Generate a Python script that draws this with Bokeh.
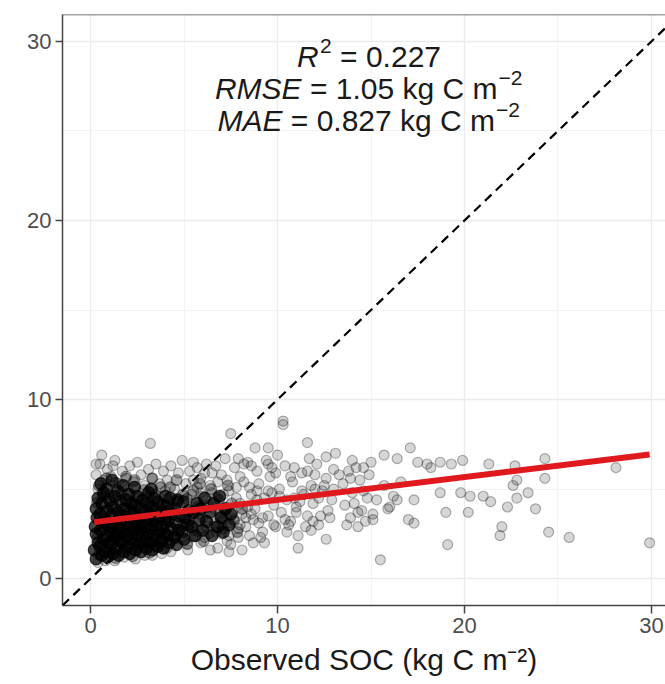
from bokeh.plotting import figure
from bokeh.models import Range1d, FixedTicker, Slope, Span, Label
from bokeh.embed import file_html
from bokeh.resources import INLINE

# ---------------- data ----------------
# dense core of the cloud (observed SOC, predicted SOC), kg C m-2
core_obs = [
    0.3, 0.2, 0.4, 0.3, 0.25, 0.35, 0.3, 0.4,
    0.6, 0.5, 0.7, 0.55, 0.65, 0.5, 0.6, 0.7, 0.55,
    0.9, 0.8, 1.0, 0.85, 0.95, 0.8, 0.9, 1.0, 0.85,
    1.2, 1.1, 1.3, 1.15, 1.25, 1.1, 1.2, 1.3, 1.15,
    1.5, 1.4, 1.6, 1.45, 1.55, 1.4, 1.5, 1.6, 1.45,
    1.8, 1.7, 1.9, 1.75, 1.85, 1.7, 1.8, 1.9, 1.75,
    2.1, 2.0, 2.2, 2.05, 2.15, 2.0, 2.1, 2.2, 2.05,
    2.4, 2.3, 2.5, 2.35, 2.45, 2.3, 2.4, 2.5, 2.35,
    2.7, 2.6, 2.8, 2.65, 2.75, 2.6, 2.7, 2.8,
    3.0, 2.9, 3.1, 2.95, 3.05, 2.9, 3.0, 3.1,
    3.3, 3.2, 3.4, 3.25, 3.35, 3.2, 3.3, 3.4, 3.25,
    3.6, 3.5, 3.7, 3.55, 3.65, 3.5, 3.6,
    3.9, 3.8, 4.0, 3.85, 3.95, 3.8, 3.9, 4.0,
    4.2, 4.1, 4.3, 4.15, 4.35, 4.1, 4.25,
    4.6, 4.5, 4.7, 4.55, 4.75, 4.5, 4.65,
    5.0, 4.9, 5.2, 5.05, 5.25, 4.95,
    5.6, 5.4, 5.8, 5.5, 5.7,
    6.0, 6.2, 6.4, 6.6, 6.8, 7.0, 7.2, 7.4, 6.1, 6.9, 7.5, 5.9, 6.5, 7.1,
]
core_pred = [
    1.1, 1.6, 2.0, 2.5, 2.9, 3.4, 3.9, 4.5,
    1.3, 1.8, 2.2, 2.7, 3.1, 3.6, 4.2, 4.8, 5.3,
    1.2, 1.5, 2.0, 2.4, 2.9, 3.3, 3.8, 4.4, 5.0,
    1.4, 1.9, 2.3, 2.6, 3.0, 3.5, 4.0, 4.6, 5.5,
    1.3, 1.7, 2.1, 2.5, 2.8, 3.2, 3.7, 4.3, 4.9,
    1.5, 2.0, 2.4, 2.7, 3.1, 3.5, 3.9, 4.4, 5.2,
    1.4, 1.8, 2.2, 2.6, 3.0, 3.4, 3.8, 4.2, 4.7,
    1.6, 2.0, 2.4, 2.8, 3.2, 3.6, 4.1, 4.6, 5.1,
    1.5, 1.9, 2.3, 2.7, 3.0, 3.4, 3.9, 4.4,
    1.7, 2.1, 2.5, 2.9, 3.3, 3.7, 4.2, 4.8,
    1.6, 2.0, 2.4, 2.8, 3.2, 3.6, 4.0, 4.5, 5.0,
    1.8, 2.2, 2.6, 3.0, 3.4, 3.8, 4.3,
    1.7, 2.1, 2.5, 2.9, 3.3, 3.7, 4.1, 4.6,
    2.0, 2.4, 2.8, 3.2, 3.6, 4.0, 4.5,
    1.9, 2.3, 2.7, 3.1, 3.5, 3.9, 4.4,
    2.2, 2.6, 3.0, 3.4, 3.8, 4.3,
    2.4, 2.9, 3.3, 3.7, 4.2,
    2.7, 3.2, 3.7, 4.2, 2.9, 3.4, 3.9, 3.0, 4.5, 4.6, 3.6, 3.9, 2.4, 2.6,
]

# second, slightly less dense layer of the core
core2_obs = [
    0.45, 0.75, 0.35, 0.65, 0.45, 0.75, 0.35, 0.65, 0.45, 0.85,
    1.35, 1.05, 1.65, 1.35, 1.05, 1.65, 1.35, 1.05, 1.65, 1.35, 1.9,
    2.25, 2.55, 2.85, 2.25, 2.55, 2.85, 2.25, 2.55, 2.85, 2.35,
    3.15, 3.45, 3.75, 3.15, 3.45, 3.75, 3.15, 3.45, 3.75, 3.3,
    4.05, 4.35, 4.65, 4.95, 4.05, 4.35, 4.65, 4.95, 4.25, 4.6,
    5.15, 5.45, 5.75, 5.15, 5.45, 5.75, 5.15, 5.5, 5.85,
    6.05, 6.35, 6.65, 6.95, 7.25, 7.55, 6.25, 6.75, 7.05, 7.65, 7.85, 8.1, 6.45, 7.35,
]
core2_pred = [
    1.35, 1.75, 2.25, 2.75, 3.25, 3.75, 4.25, 4.65, 5.2, 5.6,
    1.15, 1.65, 1.95, 2.45, 2.95, 3.3, 3.85, 4.3, 4.75, 5.35, 5.7,
    1.25, 1.75, 2.05, 2.55, 3.05, 3.55, 4.05, 4.45, 4.95, 5.5,
    1.45, 1.85, 2.35, 2.75, 3.25, 3.65, 4.15, 4.7, 5.1, 5.6,
    1.7, 2.15, 2.55, 2.95, 3.45, 3.85, 4.25, 4.7, 5.1, 5.5,
    1.95, 2.35, 2.65, 3.15, 3.6, 4.0, 4.45, 4.9, 5.3,
    2.1, 2.55, 3.05, 3.45, 3.85, 4.2, 4.0, 4.5, 2.8, 3.3, 2.6, 3.9, 5.0, 5.2,
]

# surrounding points (halo and spread up to ~13)
spread_obs = [
    0.3, 0.5, 0.7, 0.9, 1.1, 1.3, 1.5, 1.7, 1.9, 2.1,
    2.3, 2.5, 2.7, 2.9, 3.1, 3.3, 3.5, 3.7, 3.9, 4.1,
    4.3, 4.5, 4.7, 4.9, 5.1, 5.3, 5.5, 5.7, 5.9, 0.6,
    3.2, 0.3, 1.2, 0.4, 1.0, 2.0, 3.0, 4.0, 5.0,
    0.4, 1.3, 2.4, 3.3, 4.3, 5.2, 0.8, 1.8, 2.9, 3.8,
    5.2, 5.5, 5.8, 6.0, 6.1, 6.3, 6.4, 6.6, 6.7, 6.9,
    7.0, 7.1, 7.3, 7.4, 7.6, 7.7, 7.9, 8.0, 8.2, 8.3,
    8.5, 8.6, 8.8, 8.9, 9.0, 6.2, 6.5, 6.8, 7.2, 7.5,
    7.8, 8.1, 8.4, 8.7, 9.0, 5.7, 6.0, 6.3, 6.6, 6.9,
    7.2, 7.5, 7.8, 8.1, 8.4, 8.7, 5.4, 5.9, 6.4, 7.0,
    7.9, 8.6, 9.5,
    9.2, 9.3, 9.5, 9.6, 9.8, 9.9, 10.1, 10.2, 10.4, 10.5,
    10.7, 10.8, 11.0, 11.1, 11.3, 11.4, 11.6, 11.8, 11.9, 12.1,
    12.2, 12.4, 12.6, 12.7, 12.9, 13.0, 9.4, 10.0, 10.3, 10.3,
    11.6, 7.5, 9.5, 8.8, 11.1, 9.1, 7.4, 12.6, 11.7, 12.6,
    9.7, 10.6, 11.2, 12.0, 10.9, 8.0, 8.9, 9.9, 12.3, 11.5,
    5.3, 5.6, 5.9, 6.2, 6.5, 6.8, 7.1, 7.4, 7.7, 8.0,
    8.3, 8.6, 8.9, 9.2, 9.5, 9.8, 10.1, 10.4, 10.7, 11.0,
    11.3, 11.6, 11.9, 12.2, 12.5, 12.8, 6.1, 7.3, 8.5, 9.7,
    10.9, 12.0, 7.9, 9.3, 6.7, 8.2, 5.5, 10.5, 11.8, 13.0,
]
spread_pred = [
    5.8, 6.4, 5.5, 6.1, 5.7, 6.6, 5.3, 6.0, 5.6, 6.3,
    5.4, 6.5, 5.8, 5.2, 6.1, 5.6, 6.4, 5.3, 6.0, 5.5,
    6.3, 5.0, 5.9, 6.6, 5.3, 6.0, 5.5, 6.2, 4.8, 6.9,
    7.55, 6.4, 6.3, 5.0, 4.7, 5.0, 4.6, 4.9, 4.6,
    0.9, 1.0, 1.1, 1.3, 1.5, 1.6, 1.0, 1.2, 1.3, 1.4,
    1.9, 2.7, 3.6, 4.6, 2.3, 3.1, 5.2, 3.9, 2.6, 4.4,
    5.8, 3.3, 2.1, 4.9, 3.7, 6.2, 2.8, 4.2, 5.4, 3.4,
    2.4, 4.7, 3.9, 6.0, 3.1, 6.4, 5.9, 1.7, 6.7, 1.9,
    5.1, 1.6, 6.5, 2.0, 5.3, 5.1, 3.4, 4.1, 2.9, 3.6,
    4.0, 3.1, 4.5, 3.6, 4.0, 3.3, 4.7, 2.0, 1.6, 2.5,
    6.7, 6.3, 6.4,
    2.6, 4.5, 3.5, 5.7, 4.1, 2.9, 5.0, 3.7, 6.3, 4.4,
    3.2, 5.4, 4.0, 2.4, 5.9, 4.7, 3.5, 5.2, 4.2, 6.4,
    3.0, 4.9, 5.6, 3.8, 4.4, 6.1, 6.6, 6.9, 8.8, 8.6,
    7.6, 8.1, 7.3, 7.3, 1.7, 2.3, 1.5, 2.2, 6.7, 6.8,
    4.8, 3.0, 4.3, 5.0, 6.2, 3.0, 4.9, 5.9, 3.5, 2.9,
    3.2, 4.3, 5.6, 2.9, 4.8, 5.4, 4.7, 2.4, 3.2, 5.7,
    2.9, 3.6, 4.4, 3.4, 4.9, 3.0, 4.6, 3.3, 5.7, 3.7,
    4.9, 6.0, 3.2, 4.5, 5.2, 3.4, 5.9, 5.5, 5.1, 6.2,
    4.5, 5.8, 2.3, 2.0, 6.3, 6.4, 6.5, 2.6, 2.7, 5.0,
]

# sparse tail of high observed values
tail_obs = [
    13.1, 13.5, 13.6, 13.8, 13.9, 14.0, 14.2, 14.3, 14.4, 14.5,
    14.6, 14.8, 15.0, 15.1, 15.1, 15.3, 15.5, 15.7, 15.7, 15.9,
    16.0, 16.2, 16.4, 16.4, 16.6, 17.0, 17.1, 17.3, 17.3, 17.5,
    18.0, 18.2, 18.7, 18.7, 19.0, 19.1, 19.3, 19.8, 19.9, 20.2,
    20.3, 21.0, 21.3, 21.4, 21.9, 22.0, 22.3, 22.6, 22.7, 22.8,
    22.8, 23.4, 23.8, 24.3, 24.3, 24.5, 25.6, 28.1, 29.9, 13.9,
    14.1, 14.3, 14.6, 14.9, 14.7, 14.0, 13.3, 13.7,
]
tail_pred = [
    7.0, 5.3, 4.1, 6.0, 3.4, 4.8, 6.2, 2.9, 5.5, 3.8,
    6.2, 4.5, 6.5, 3.6, 3.3, 4.4, 1.05, 5.2, 6.9, 3.9,
    4.0, 4.6, 6.7, 4.4, 5.4, 3.3, 7.3, 3.1, 4.4, 6.5,
    6.4, 6.2, 6.5, 4.8, 3.7, 1.9, 6.4, 4.8, 6.6, 3.7,
    4.6, 4.6, 6.4, 4.3, 2.4, 2.9, 4.0, 5.2, 6.3, 4.5,
    5.5, 4.8, 3.9, 6.7, 5.6, 2.6, 2.3, 6.2, 2.0, 5.6,
    4.2, 3.7, 4.9, 5.8, 3.2, 6.6, 5.8, 3.0,
]

# linear fit (red line)
fit_intercept = 3.13
fit_slope = 0.127

tick_values = [0, 10, 20, 30]
minor_tick_values = [5, 15, 25]
x_limits = (-1.5, 30.75)
y_limits = (-1.5, 31.5)

x_title = "Observed SOC (kg C m\u207b\u00b2)"
stat_names = ["R", "RMSE", "MAE"]
stat_values = ["= 0.227", "= 1.05 kg C m", "= 0.827 kg C m"]
stat_sups = ["2", "\u22122", "\u22122"]

# ---------------- figure ----------------
FONT = "Liberation Sans"
AXIS_COL = "#444444"

p = figure(width=665, height=684,
           x_range=Range1d(*x_limits), y_range=Range1d(*y_limits),
           output_backend="svg", toolbar_location=None,
           min_border_left=62, min_border_right=0,
           min_border_top=14, min_border_bottom=79,
           background_fill_color="white", border_fill_color="white")
p.outline_line_color = None

for ax in (p.xaxis[0], p.yaxis[0]):
    ax.ticker = FixedTicker(ticks=tick_values, minor_ticks=minor_tick_values)
    ax.axis_line_color = AXIS_COL
    ax.axis_line_width = 1.5
    ax.major_tick_line_color = AXIS_COL
    ax.major_tick_line_width = 1.5
    ax.major_tick_in = 0
    ax.minor_tick_line_color = None
    ax.major_label_text_font = FONT
    ax.major_label_text_font_size = "22px"
    ax.major_label_text_color = "#4d4d4d"
    ax.major_label_standoff = 4

p.xaxis.major_tick_out = 8
p.yaxis.major_tick_out = 7
p.xaxis.axis_label = x_title
p.xaxis.axis_label_text_font = FONT
p.xaxis.axis_label_text_font_size = "30px"
p.xaxis.axis_label_text_font_style = "normal"
p.xaxis.axis_label_text_color = "#1a1a1a"
p.xaxis.axis_label_standoff = 7

for g in (p.xgrid[0], p.ygrid[0]):
    g.grid_line_color = "#EBEBEB"
    g.grid_line_width = 1.3
    g.minor_grid_line_color = "#F0F0F0"
    g.minor_grid_line_width = 0.8

# top panel border
p.add_layout(Span(location=y_limits[1], dimension="width",
                  line_color=AXIS_COL, line_width=1.5))

# points
pt_style = dict(marker="circle", fill_color="black", line_color="black", line_width=1.2)
p.scatter(tail_obs, tail_pred, size=10, fill_alpha=0.16, line_alpha=0.3, **pt_style)
p.scatter(spread_obs, spread_pred, size=10, fill_alpha=0.16, line_alpha=0.3, **pt_style)
p.scatter(core2_obs, core2_pred, size=11, fill_alpha=0.35, line_alpha=0.35, **pt_style)
p.scatter(core_obs, core_pred, size=12, fill_alpha=0.72, line_alpha=0.72, **pt_style)

# 1:1 line
p.add_layout(Slope(gradient=1, y_intercept=0, line_color="black",
                   line_width=2.2, line_dash="9 6"))

# regression line over the observed range
all_obs = core_obs + core2_obs + spread_obs + tail_obs
fx = [min(all_obs), max(all_obs)]
fy = [fit_intercept + fit_slope * v for v in fx]
p.line(fx, fy, line_color="#e0191f", line_width=6)

# annotation (stat name italic, value, superscript)
F, FS, RAISE = 30, 21, 11
label_x = 14.85
baselines = [29.15, 27.36, 25.58]
# approximate Liberation Sans widths (em/1000)
W = {"R": 722, "M": 833, "S": 667, "E": 667, "A": 667, " ": 278, "=": 584,
     "0": 556, "1": 556, "2": 556, "5": 556, "7": 556, "8": 556, ".": 278,
     "k": 500, "g": 556, "C": 722, "m": 833, "\u2212": 584}


def tw(s, size):
    return sum(W.get(c, 556) for c in s) * size / 1000.0


SP = tw(" ", F)
txt = dict(text_font=FONT, text_baseline="alphabetic", text_color="#1a1a1a")

for name, val, sup, yb in zip(stat_names, stat_values, stat_sups, baselines):
    wn, wv, ws = tw(name, F), tw(val, F), tw(sup, FS)
    if name == "R":
        total = wn + ws + SP + wv
        a = -total / 2 + wn
        p.add_layout(Label(x=label_x, y=yb, x_offset=a, text=name, text_font_size=f"{F}px",
                           text_font_style="italic", text_align="right", **txt))
        p.add_layout(Label(x=label_x, y=yb, x_offset=a + 1.5, y_offset=RAISE, text=sup,
                           text_font_size=f"{FS}px", text_align="left", **txt))
        p.add_layout(Label(x=label_x, y=yb, x_offset=a + 1.5 + ws + SP, text=val,
                           text_font_size=f"{F}px", text_align="left", **txt))
    else:
        total = wn + SP + wv + ws
        a = -total / 2 + wn
        p.add_layout(Label(x=label_x, y=yb, x_offset=a, text=name, text_font_size=f"{F}px",
                           text_font_style="italic", text_align="right", **txt))
        p.add_layout(Label(x=label_x, y=yb, x_offset=a + SP, text=val,
                           text_font_size=f"{F}px", text_align="left", **txt))
        p.add_layout(Label(x=label_x, y=yb, x_offset=a + SP + wv + 1, y_offset=RAISE, text=sup,
                           text_font_size=f"{FS}px", text_align="left", **txt))

open("out.html", "w").write(file_html(p, INLINE))
